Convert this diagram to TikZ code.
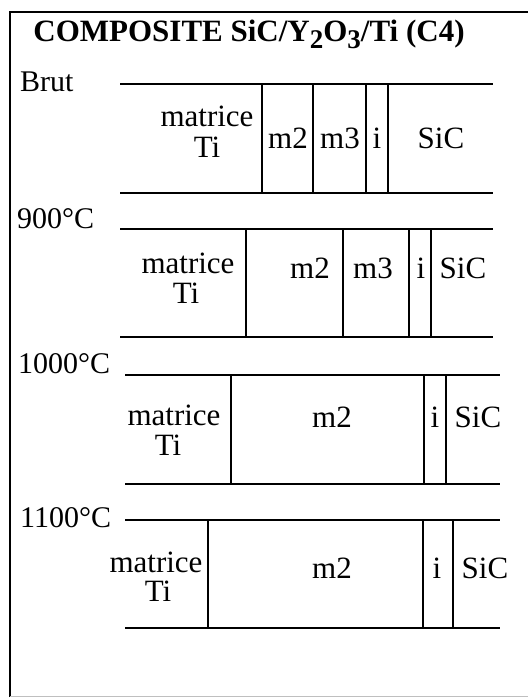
\documentclass[tikz,border=0pt]{standalone}
\usepackage{fontspec}
\setmainfont{Liberation Serif}
\begin{document}
\begin{tikzpicture}[x=1pt,y=-1pt,
  lbl/.style={inner sep=0pt,anchor=base,font=\fontsize{31}{31}\selectfont},
  side/.style={inner sep=0pt,anchor=base west,font=\fontsize{30}{30}\selectfont},
  band/.style={line width=2.8pt},
  sep/.style={line width=1.4pt},
  frame/.style={line width=2.8pt}]
\useasboundingbox (0,0) rectangle (528,698);
% frame
\draw[frame] (10,697) -- (10,12) -- (528,12);
\draw[line width=1pt,black!25] (10,696) -- (528,696);
% title
\node[inner sep=0pt,anchor=base,font=\fontsize{31}{31}\selectfont\bfseries] (title) at (249,42)
  {COMPOSITE SiC/Y\raisebox{-7pt}{\fontsize{27}{27}\selectfont 2}O\raisebox{-7pt}{\fontsize{27}{27}\selectfont 3}/Ti (C4)};
% ---------- Brut ----------
\node[side] (lbrut) at (20,92) {Brut};
\draw[band] (120,84) -- (493,84);
\draw[band] (120,193) -- (493,193);
\foreach \x in {262,313,366,388} \draw[sep] (\x,84) -- (\x,193);
\node[lbl] (a1) at (207,127) {matrice};
\node[lbl] (a2) at (207,157) {Ti};
\node[lbl] (a3) at (288,148) {m2};
\node[lbl] (a4) at (340,148) {m3};
\node[lbl] (a5) at (377,148) {i};
\node[lbl] (a6) at (441,148) {SiC};
% ---------- 900 ----------
\node[side] (l900) at (17,228) {900°C};
\draw[band] (120,229) -- (493,229);
\draw[band] (120,337) -- (493,337);
\foreach \x in {246,343,409,431} \draw[sep] (\x,229) -- (\x,337);
\node[lbl] (b1) at (188,273) {matrice};
\node[lbl] (b2) at (186,303) {Ti};
\node[lbl] (b3) at (310,278) {m2};
\node[lbl] (b4) at (373,278) {m3};
\node[lbl] (b5) at (421,278) {i};
\node[lbl] (b6) at (463,278) {SiC};
% ---------- 1000 ----------
\node[side] (l1000) at (18,373) {1000°C};
\draw[band] (125,375) -- (500,375);
\draw[band] (125,484) -- (500,484);
\foreach \x in {231,424,446} \draw[sep] (\x,375) -- (\x,484);
\node[lbl] (c1) at (174,425) {matrice};
\node[lbl] (c2) at (168,455) {Ti};
\node[lbl] (c3) at (332,427) {m2};
\node[lbl] (c4) at (435,427) {i};
\node[lbl] (c5) at (478,427) {SiC};
% ---------- 1100 ----------
\node[side] (l1100) at (20,527) {1100°C};
\draw[band] (125,520) -- (500,520);
\draw[band] (125,628) -- (500,628);
\foreach \x in {208,423,453} \draw[sep] (\x,520) -- (\x,628);
\node[lbl] (d1) at (156,572) {matrice};
\node[lbl] (d2) at (158,601) {Ti};
\node[lbl] (d3) at (332,578) {m2};
\node[lbl] (d4) at (437,578) {i};
\node[lbl] (d5) at (485,578) {SiC};
\end{tikzpicture}
\end{document}
